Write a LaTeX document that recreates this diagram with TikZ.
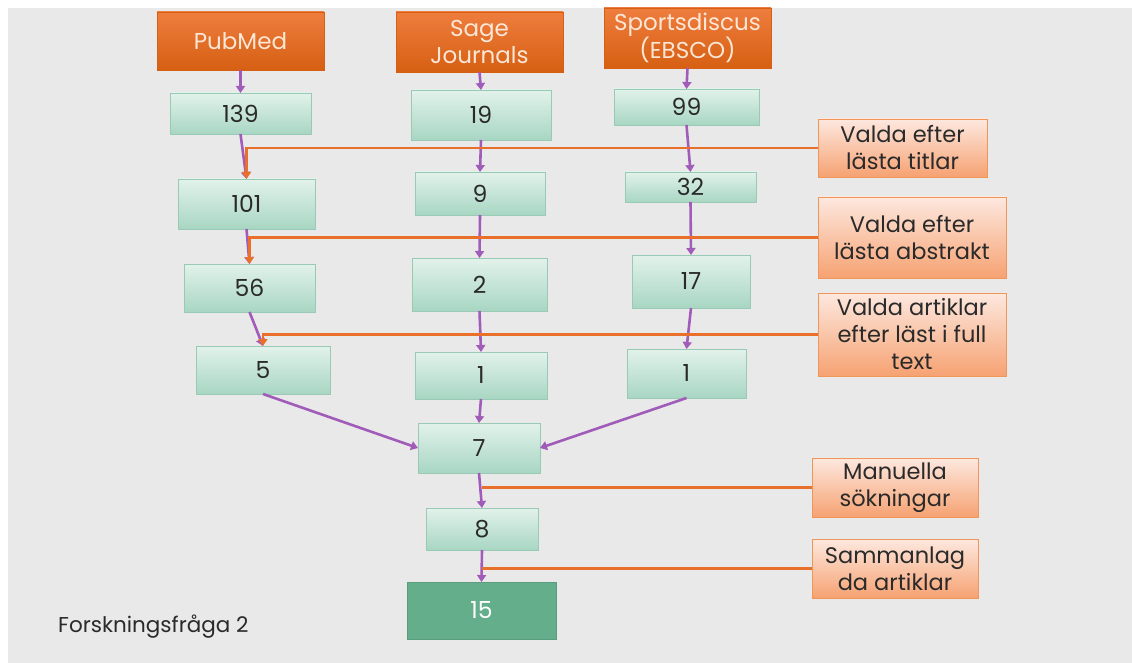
\documentclass[tikz,border=0pt]{standalone}
\usepackage{fontspec}
\setmainfont{Poppins}
\usetikzlibrary{arrows.meta,shadows}
\definecolor{bg}{HTML}{E9E9E9}
\definecolor{dbtop}{HTML}{EE7D3E}
\definecolor{dbbot}{HTML}{D65F12}
\definecolor{dbtext}{HTML}{FCE6D6}
\definecolor{gtop}{HTML}{E2F2EB}
\definecolor{gbot}{HTML}{A8D6C3}
\definecolor{gline}{HTML}{98CAB6}
\definecolor{ltop}{HTML}{FDE8DF}
\definecolor{lbot}{HTML}{F6A272}
\definecolor{lline}{HTML}{F29558}
\definecolor{purp}{HTML}{A05CB8}
\definecolor{oline}{HTML}{E8702A}
\definecolor{dgreen}{HTML}{64AE8C}
\definecolor{txt}{HTML}{2A2A2A}
\tikzset{
  dbbox/.style={draw=dbbot, line width=0.8pt, top color=dbtop, bottom color=dbbot, text=dbtext,
    inner sep=0pt, outer sep=0pt, align=center, font=\fontsize{23}{27}\selectfont,
    drop shadow={opacity=0.25, shadow xshift=1pt, shadow yshift=-1.5pt}},
  gbox/.style={draw=gline, line width=0.8pt, top color=gtop, bottom color=gbot, text=txt,
    inner sep=0pt, outer sep=0pt, font=\fontsize{23.5}{26}\selectfont},
  lbox/.style={draw=lline, line width=0.8pt, top color=ltop, bottom color=lbot, text=txt,
    inner sep=0pt, outer sep=0pt, align=center, font=\fontsize{22.5}{27}\selectfont},
  fbox/.style={fill=dgreen, draw=dgreen!90!black, line width=0.5pt, text=white,
    inner sep=0pt, outer sep=0pt, font=\fontsize{23.5}{26}\selectfont},
  parrow/.style={draw=purp, line width=2.6pt, -{Triangle[width=9pt,length=7pt]}},
  oarrow/.style={draw=oline, line width=2.6pt, -{Triangle[width=9pt,length=7pt]}},
  oline/.style={draw=oline, line width=2.6pt},
}
\begin{document}
\begin{tikzpicture}[x=1pt,y=-1pt]
\useasboundingbox (0,0) rectangle (1132,663);
\fill[bg] (8,8) rectangle (1132,663);
% databases
\node[dbbox, minimum width=167, minimum height=58] (pub) at (240.5,41) {PubMed};
\node[dbbox, minimum width=167, minimum height=60] (sage) at (479.5,42) {Sage\\Journals};
\node[dbbox, minimum width=167, minimum height=60] (sport) at (687.5,38) {Sportsdiscus\\(EBSCO)};
% column 1
\node[gbox, minimum width=141, minimum height=41] (a1) at (240.5,113.5) {139};
\node[gbox, minimum width=137, minimum height=50] (a2) at (246.5,204) {101};
\node[gbox, minimum width=131, minimum height=48] (a3) at (249.5,288) {56};
\node[gbox, minimum width=134, minimum height=48] (a4) at (263,370) {5};
% column 2
\node[gbox, minimum width=140, minimum height=50] (b1) at (481,115) {19};
\node[gbox, minimum width=130, minimum height=43] (b2) at (480,193.5) {9};
\node[gbox, minimum width=135, minimum height=53] (b3) at (479.5,284.5) {2};
\node[gbox, minimum width=132, minimum height=47] (b4) at (481,375.5) {1};
% column 3
\node[gbox, minimum width=145, minimum height=36] (c1) at (686.5,107) {99};
\node[gbox, minimum width=131, minimum height=30] (c2) at (690.5,187) {32};
\node[gbox, minimum width=118, minimum height=53] (c3) at (691,281.5) {17};
\node[gbox, minimum width=119, minimum height=49] (c4) at (686.5,373.5) {1};
% bottom
\node[gbox, minimum width=122, minimum height=50] (m1) at (479,448) {7};
\node[gbox, minimum width=112, minimum height=42] (m2) at (482,529) {8};
\node[fbox, minimum width=149, minimum height=57] (m3) at (481.5,610.5) {15};
% labels
\node[lbox, minimum width=169, minimum height=58] (lt) at (902.5,148) {Valda efter\\lästa titlar};
\node[lbox, minimum width=188, minimum height=81] (la) at (912,237.5) {Valda efter\\lästa abstrakt};
\node[lbox, minimum width=188, minimum height=83] (lf) at (912,334.5) {Valda artiklar\\efter läst i full\\text};
\node[lbox, minimum width=166, minimum height=59] (lm) at (895,487.5) {Manuella\\sökningar};
\node[lbox, minimum width=166, minimum height=59] (ls) at (895,568.5) {Sammanlag\\da artiklar};
\node[anchor=west, text=txt, inner sep=0pt, font=\fontsize{21.5}{24}\selectfont] (title) at (58,627) {Forskningsfråga 2};
% purple arrows
\draw[parrow] (pub.south) -- (a1.north);
\draw[parrow] (a1.south) -- (a2.north);
\draw[parrow] (a2.south) -- (a3.north);
\draw[parrow] (a3.south) -- (a4.north);
\draw[parrow] (sage.south) -- (b1.north);
\draw[parrow] (b1.south) -- (b2.north);
\draw[parrow] (b2.south) -- (b3.north);
\draw[parrow] (b3.south) -- (b4.north);
\draw[parrow] (sport.south) -- (c1.north);
\draw[parrow] (c1.south) -- (c2.north);
\draw[parrow] (c2.south) -- (c3.north);
\draw[parrow] (c3.south) -- (c4.north);
\draw[parrow] (a4.south) -- (m1.west);
\draw[parrow] (b4.south) -- (m1.north);
\draw[parrow] (c4.south) -- (m1.east);
\draw[parrow] (m1.south) -- (m2.north);
\draw[parrow] (m2.south) -- (m3.north);
% orange connectors
\draw[oarrow] (lt.west) -| (a2.north);
\draw[oarrow] (la.west) -| (a3.north);
\draw[oarrow] (lf.west) -| (a4.north);
\coordinate (jm) at (lm.west -| m2.north);
\coordinate (js) at (ls.west -| m3.north);
\draw[oline] (lm.west) -- (jm);
\draw[oline] (ls.west) -- (js);
\end{tikzpicture}
\end{document}
